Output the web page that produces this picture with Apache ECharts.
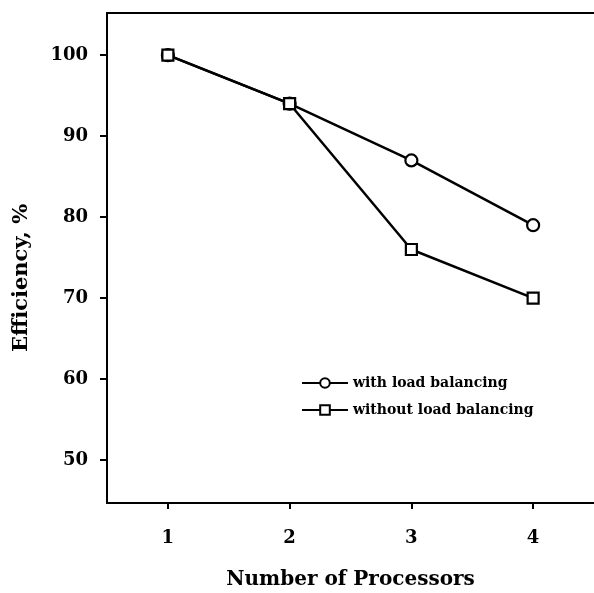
<!DOCTYPE html>
<html>
<head>
<meta charset="utf-8">
<script src="https://cdn.jsdelivr.net/npm/echarts@6/dist/echarts.min.js"></script>
<style>
    html, body { margin: 0; padding: 0; background: #fff; }
    #chart { width: 594px; height: 593px; }
</style>
</head>
<body>
<div id="chart"></div>
<script>
var processors = [1, 2, 3, 4];
var withBalancing = [100, 94, 87, 79];
var withoutBalancing = [100, 94, 76, 70];
var yTicks = [50, 60, 70, 80, 90, 100];
var seriesNames = ['with load balancing', 'without load balancing'];

function pairs(xs, ys) {
    var out = [];
    for (var i = 0; i < xs.length; i++) {
        out.push([xs[i], ys[i]]);
    }
    return out;
}

var font = '"DejaVu Serif", "Liberation Serif", serif';
var chart = echarts.init(document.getElementById('chart'));

var option = {
    animation: false,
    backgroundColor: '#fff',
    grid: { left: 107, right: 0, top: 13, bottom: 90, outerBoundsMode: 'none' },
    legend: {
        left: 296,
        top: 371,
        orient: 'vertical',
        itemGap: 13,
        itemWidth: 46,
        itemHeight: 12,
        data: seriesNames,
        textStyle: { fontFamily: font, fontWeight: 'bold', fontSize: 14, color: '#000' }
    },
    xAxis: [{
        type: 'value',
        min: 0.5,
        max: 4.5,
        interval: 1,
        name: 'Number of Processors',
        nameLocation: 'middle',
        nameGap: 67,
        nameTextStyle: { fontFamily: font, fontWeight: 'bold', fontSize: 20, color: '#000' },
        axisLine: { lineStyle: { color: '#000', width: 2 } },
        axisTick: { show: true, length: 6, lineStyle: { color: '#000', width: 2 }, customValues: processors },
        axisLabel: { margin: 26, fontFamily: font, fontWeight: 'bold', fontSize: 18, color: '#000', customValues: processors },
        splitLine: { show: false }
    }, {
        type: 'value',
        position: 'top',
        min: 0.5,
        max: 4.5,
        axisLine: { show: true, lineStyle: { color: '#000', width: 2 } },
        axisTick: { show: false },
        axisLabel: { show: false },
        splitLine: { show: false }
    }],
    yAxis: {
        type: 'value',
        min: 44.7,
        max: 105.2,
        axisLine: { show: true, lineStyle: { color: '#000', width: 2 } },
        axisTick: { show: true, length: 7, lineStyle: { color: '#000', width: 2 }, customValues: yTicks },
        axisLabel: { margin: 19, fontFamily: font, fontWeight: 'bold', fontSize: 18, color: '#000', customValues: yTicks },
        splitLine: { show: false }
    },
    graphic: [{
        type: 'text',
        x: 22,
        y: 278,
        rotation: Math.PI / 2,
        style: {
            text: 'Efficiency, %',
            font: 'bold 21px ' + font,
            fill: '#000',
            align: 'center',
            verticalAlign: 'middle'
        }
    }],
    series: [{
        name: seriesNames[0],
        type: 'line',
        data: pairs(processors, withBalancing),
        symbol: 'circle',
        symbolSize: 12,
        lineStyle: { color: '#000', width: 2.5 },
        itemStyle: { color: '#fff', borderColor: '#000', borderWidth: 2.2 },
        z: 3
    }, {
        name: seriesNames[1],
        type: 'line',
        data: pairs(processors, withoutBalancing),
        symbol: 'rect',
        symbolSize: 11,
        lineStyle: { color: '#000', width: 2.5 },
        itemStyle: { color: '#fff', borderColor: '#000', borderWidth: 2.2 },
        z: 4
    }]
};
chart.setOption(option);
</script>
</body>
</html>
